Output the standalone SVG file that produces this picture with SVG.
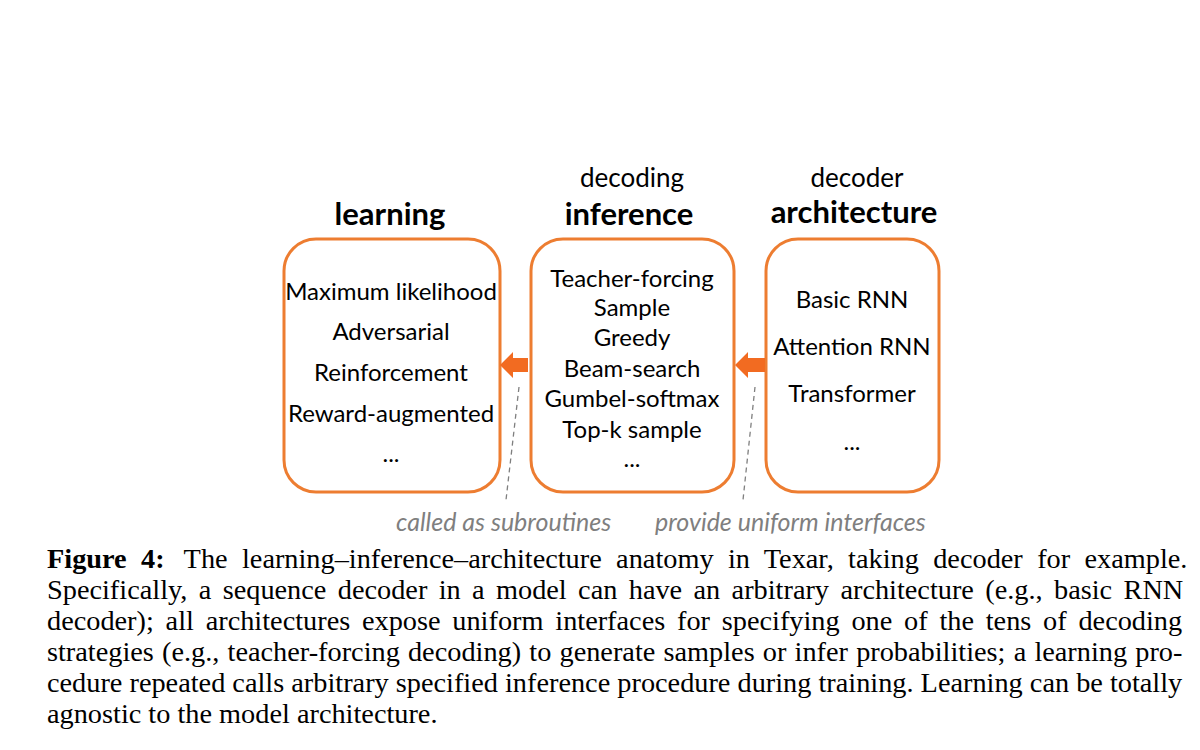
<svg xmlns="http://www.w3.org/2000/svg" width="1200" height="750" viewBox="0 0 1200 750">
<style>
.box{fill:#fff;stroke:#ED7D31;stroke-width:3}
.hd{font-family:Lato,"Open Sans",sans-serif;font-weight:bold;font-size:31px;fill:#000;text-anchor:middle}
.sub{font-family:Lato,"Open Sans",sans-serif;font-size:26px;fill:#000;text-anchor:middle}
.it{font-family:Lato,"Open Sans",sans-serif;font-size:24px;fill:#000;text-anchor:middle}
.lbl{font-family:Lato,"Open Sans",sans-serif;font-style:italic;font-size:25px;fill:#7f7f7f}
.arr{fill:#F26B21}
.dash{stroke:#7f7f7f;stroke-width:1.3;stroke-dasharray:5 4;fill:none}
.cap{font-family:"Liberation Serif","Times New Roman",serif;font-size:28.3px;fill:#000}
</style>
<rect width="1200" height="750" fill="#fff"/>
<g id="learning">
<text class="hd" x="390" y="225">learning</text>
<rect class="box" x="284" y="239" width="216" height="253" rx="32"/>
<text class="it" x="391" y="300">Maximum likelihood</text>
<text class="it" x="391" y="340">Adversarial</text>
<text class="it" x="391" y="381">Reinforcement</text>
<text class="it" x="391" y="422">Reward-augmented</text>
<text class="it" x="391" y="462">...</text>
</g>
<g id="inference">
<text class="sub" x="632" y="187">decoding</text>
<text class="hd" x="629" y="225">inference</text>
<rect class="box" x="531" y="239" width="203" height="253" rx="32"/>
<text class="it" x="632" y="287">Teacher-forcing</text>
<text class="it" x="632" y="316">Sample</text>
<text class="it" x="632" y="346">Greedy</text>
<text class="it" x="632" y="377">Beam-search</text>
<text class="it" x="632" y="407">Gumbel-softmax</text>
<text class="it" x="632" y="438">Top-k sample</text>
<text class="it" x="632" y="467">...</text>
</g>
<g id="architecture">
<text class="sub" x="857" y="187">decoder</text>
<text class="hd" x="854" y="223">architecture</text>
<rect class="box" x="766" y="239" width="173" height="253" rx="32"/>
<text class="it" x="852" y="308">Basic RNN</text>
<text class="it" x="852" y="355">Attention RNN</text>
<text class="it" x="852" y="402">Transformer</text>
<text class="it" x="852" y="450">...</text>
</g>
<g id="connectors">
<polygon class="arr" points="500,365 513,352 513,358 528,358 528,372 513,372 513,378"/>
<polygon class="arr" points="735,365 748,352 748,358 765,358 765,372 748,372 748,378"/>
<line class="dash" x1="519" y1="387" x2="506" y2="500"/>
<line class="dash" x1="755" y1="387" x2="743" y2="500"/>
</g>
<g id="labels">
<text class="lbl" x="396" y="531">called as subroutines</text>
<text class="lbl" x="655" y="531">provide uniform interfaces</text>
</g>
<g id="caption">
<text class="cap" x="47" y="568" word-spacing="7.3"><tspan font-weight="bold">Figure 4:</tspan><tspan dx="19">The learning–inference–architecture anatomy in Texar, taking decoder for example.</tspan></text>
<text class="cap" x="47" y="599" word-spacing="4.3">Specifically, a sequence decoder in a model can have an arbitrary architecture (e.g., basic RNN</text>
<text class="cap" x="47" y="630" word-spacing="4.7">decoder); all architectures expose uniform interfaces for specifying one of the tens of decoding</text>
<text class="cap" x="47" y="661" word-spacing="1.1">strategies (e.g., teacher-forcing decoding) to generate samples or infer probabilities; a learning pro-</text>
<text class="cap" x="47" y="692">cedure repeated calls arbitrary specified inference procedure during training. Learning can be totally</text>
<text class="cap" x="47" y="723">agnostic to the model architecture.</text>
</g>
</svg>
